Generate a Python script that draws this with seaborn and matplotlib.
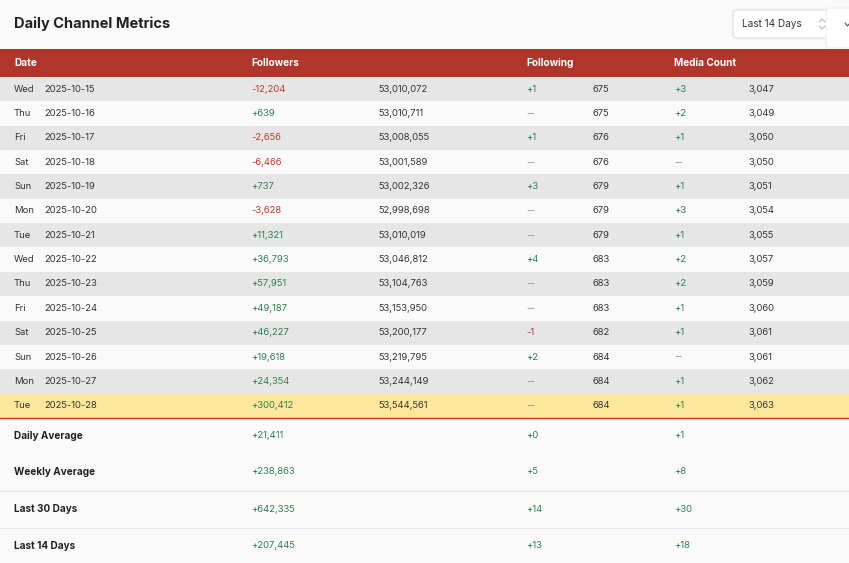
import matplotlib.pyplot as plt
import seaborn as sns
from matplotlib.patches import FancyBboxPatch

sns.set_theme(style="white", font="Inter")

days = ["Wed", "Thu", "Fri", "Sat", "Sun", "Mon", "Tue",
        "Wed", "Thu", "Fri", "Sat", "Sun", "Mon", "Tue"]
dates = ["2025-10-15", "2025-10-16", "2025-10-17", "2025-10-18", "2025-10-19",
         "2025-10-20", "2025-10-21", "2025-10-22", "2025-10-23", "2025-10-24",
         "2025-10-25", "2025-10-26", "2025-10-27", "2025-10-28"]
followers_delta = [-12204, 639, -2656, -6466, 737, -3628, 11321,
                   36793, 57951, 49187, 46227, 19618, 24354, 300412]
followers_total = [53010072, 53010711, 53008055, 53001589, 53002326, 52998698,
                   53010019, 53046812, 53104763, 53153950, 53200177, 53219795,
                   53244149, 53544561]
following_delta = [1, 0, 1, 0, 3, 0, 0, 4, 0, 0, -1, 2, 0, 0]
following_total = [675, 675, 676, 676, 679, 679, 679, 683, 683, 683, 682, 684, 684, 684]
media_delta = [3, 2, 1, 0, 1, 3, 1, 2, 2, 1, 1, 0, 1, 1]
media_total = [3047, 3049, 3050, 3050, 3051, 3054, 3055, 3057, 3059, 3060,
               3061, 3061, 3062, 3063]

summary_labels = ["Daily Average", "Weekly Average", "Last 30 Days", "Last 14 Days"]
summary_followers = [21411, 238863, 642335, 207445]
summary_following = [0, 5, 14, 13]
summary_media = [1, 8, 30, 18]

GREEN = "#2E7D4F"
RED = "#C0392B"
TEXT = "#333333"


def fmt_delta(v):
    if v == 0:
        return "--", "#888888"
    if v > 0:
        return f"+{v:,}", GREEN
    return f"-{abs(v):,}", RED


fig = plt.figure(figsize=(8.49, 5.63), dpi=100, facecolor="#FAFAFA")
ax = fig.add_axes([0, 0, 1, 1])
ax.set_xlim(0, 849)
ax.set_ylim(563, 0)
ax.axis("off")

# title and selector
ax.text(14, 24, "Daily Channel Metrics", fontsize=10.5, fontweight="bold",
        color="#222222", va="center")
ax.add_patch(FancyBboxPatch((733, 10), 107, 28, boxstyle="round,pad=0,rounding_size=3",
                            fc="white", ec="#DDDDDD", lw=0.8))
ax.text(742, 24, "Last 14 Days", fontsize=7.2, color=TEXT, va="center")
# up/down arrows of the selector
ax.plot([819, 822, 825], [22, 19, 22], color="#BBBBBB", lw=0.8)
ax.plot([819, 822, 825], [26, 29, 26], color="#BBBBBB", lw=0.8)
ax.add_patch(FancyBboxPatch((826, 8), 40, 40, boxstyle="round,pad=0,rounding_size=3",
                            fc="white", ec="#EEEEEE", lw=0.8))
ax.plot([845, 847.5, 850], [23, 26, 23], color="#555555", lw=0.8)

# header
ax.axhspan(49, 77, color="#B0362B", lw=0)
for x, lab in [(14, "Date"), (251, "Followers"), (526, "Following"), (674, "Media Count")]:
    ax.text(x, 63, lab, fontsize=7.2, fontweight="bold", color="white", va="center")

row_h = 24.35
top = 77
for i in range(len(dates)):
    y0 = top + i * row_h
    yc = y0 + row_h / 2
    if i == len(dates) - 1:
        bg = "#FCE79A"
    elif i % 2 == 0:
        bg = "#E6E6E6"
    else:
        bg = "#FAFAFA"
    ax.axhspan(y0, y0 + row_h, color=bg, lw=0)
    ax.text(14, yc, days[i], fontsize=6.8, color=TEXT, va="center")
    ax.text(44, yc, dates[i], fontsize=6.8, color=TEXT, va="center")
    s, c = fmt_delta(followers_delta[i])
    ax.text(251, yc, s, fontsize=6.8, color=c, va="center")
    ax.text(378, yc, f"{followers_total[i]:,}", fontsize=6.8, color=TEXT, va="center")
    s, c = fmt_delta(following_delta[i])
    ax.text(526, yc, s, fontsize=6.8, color=c, va="center")
    ax.text(593, yc, f"{following_total[i]:,}", fontsize=6.8, color=TEXT, va="center")
    s, c = fmt_delta(media_delta[i])
    ax.text(674, yc, s, fontsize=6.8, color=c, va="center")
    ax.text(748, yc, f"{media_total[i]:,}", fontsize=6.8, color=TEXT, va="center")

bottom = top + len(dates) * row_h
ax.plot([0, 849], [bottom, bottom], color="#C0392B", lw=1)

sum_y = [436, 472, 509, 546]
for y in [491, 528]:
    ax.plot([0, 849], [y, y], color="#E4E4E4", lw=0.8)
for i, lab in enumerate(summary_labels):
    y = sum_y[i]
    ax.text(14, y, lab, fontsize=7.2, fontweight="bold", color="#222222", va="center")
    ax.text(251, y, f"+{summary_followers[i]:,}", fontsize=6.8, color=GREEN, va="center")
    ax.text(526, y, f"+{summary_following[i]:,}", fontsize=6.8, color=GREEN, va="center")
    ax.text(674, y, f"+{summary_media[i]:,}", fontsize=6.8, color=GREEN, va="center")

fig.savefig("out.png", dpi=100, facecolor=fig.get_facecolor())
